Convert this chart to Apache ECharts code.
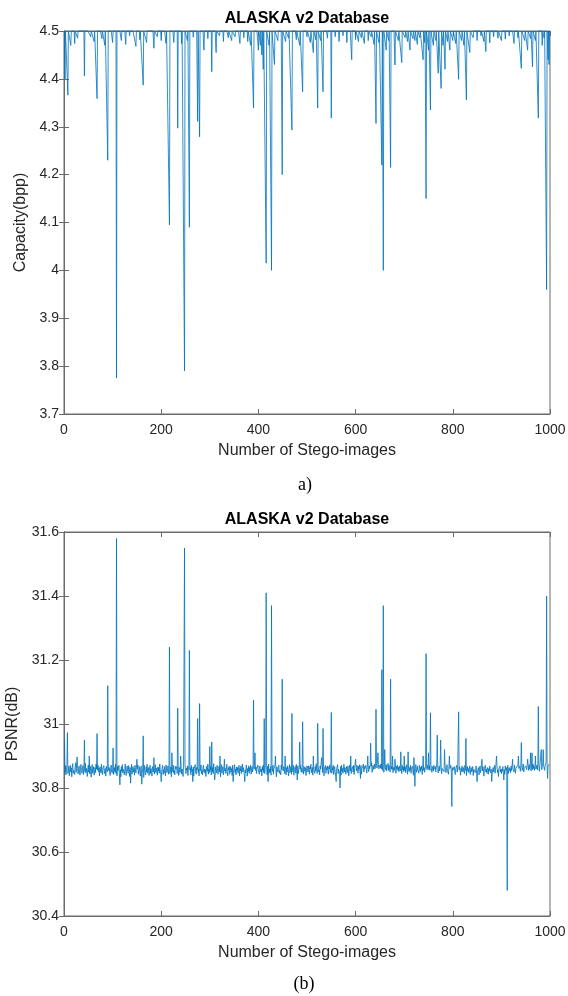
<!DOCTYPE html>
<html><head><meta charset="utf-8">
<script src="https://cdn.jsdelivr.net/npm/echarts@6/dist/echarts.min.js"></script>
<style>html,body{margin:0;padding:0;background:#fff}#c{width:568px;height:996px}</style>
</head><body><div id="c"></div>
<script>
// ---------- data ----------
const chartTitle = 'ALASKA v2 Database';
const xName = 'Number of Stego-images';
const xTicks = [0, 200, 400, 600, 800, 1000];
const capTicks = [3.7, 3.8, 3.9, 4, 4.1, 4.2, 4.3, 4.4, 4.5];
const psnrTicks = [30.4, 30.6, 30.8, 31, 31.2, 31.4, 31.6];
const nImages = 1000;

// Capacity (bpp): most images reach 4.5; dips listed as [image index, value]
const capBaseline = 4.5;
const capDips = [
 [2,4.40],[8,4.366],[14,4.47],[22,4.474],[28,4.485],[42,4.406],[55,4.488],[62,4.478],[68,4.359],[78,4.484],
 [84,4.47],[90,4.23],[100,4.476],[108,3.775],[118,4.48],[127,4.472],[135,4.49],[148,4.468],[156,4.482],[163,4.387],
 [170,4.476],[185,4.464],[192,4.488],[200,4.48],[210,4.474],[217,4.095],[226,4.476],[234,4.297],[242,4.474],[248,3.79],
 [254,4.48],[258,4.09],[266,4.487],[275,4.311],[279,4.279],[288,4.46],[296,4.484],[304,4.415],[313,4.455],[320,4.49],
 [328,4.478],[338,4.486],[345,4.48],[352,4.488],[362,4.474],[370,4.486],[378,4.478],[384,4.47],[390,4.339],[400,4.46],
 [404,4.47],[407,4.45],[410,4.42],[416,4.015],[422,4.47],[427,4.0],[433,4.43],[440,4.48],[449,4.2],[456,4.478],
 [462,4.485],[469,4.293],[478,4.482],[485,4.47],[491,4.373],[500,4.488],[507,4.476],[513,4.455],[518,4.482],[522,4.339],
 [528,4.48],[533,4.373],[542,4.485],[550,4.318],[558,4.488],[566,4.478],[574,4.49],[582,4.476],[592,4.44],[600,4.482],
 [606,4.478],[612,4.486],[618,4.474],[626,4.48],[632,4.488],[638,4.472],[642,4.307],[648,4.476],[654,4.22],[657,4.0],
 [663,4.46],[668,4.48],[672,4.215],[681,4.429],[688,4.48],[695,4.434],[702,4.486],[707,4.478],[712,4.46],[718,4.484],
 [722,4.48],[727,4.472],[732,4.486],[739,4.44],[742,4.476],[745,4.15],[750,4.46],[754,4.335],[760,4.47],[765,4.48],
 [770,4.412],[776,4.38],[780,4.47],[784,4.42],[789,4.478],[794,4.46],[800,4.48],[806,4.474],[812,4.399],[818,4.48],
 [823,4.47],[828,4.356],[835,4.455],[842,4.486],[850,4.48],[858,4.49],[864,4.478],[868,4.457],[876,4.475],[884,4.488],
 [893,4.485],[900,4.48],[908,4.483],[916,4.49],[926,4.474],[934,4.486],[941,4.422],[948,4.48],[954,4.46],[960,4.484],
 [964,4.425],[970,4.48],[976,4.318],[984,4.47],[988,4.485],[993,3.96],[996,4.44],[998,4.43]
];

// PSNR (dB): background noise, stored as thousandths of a dB above 30.8 dB, one per image
const psnrNoiseOrigin = 30.8;
const psnrNoiseMilli = [
 62,48,70,41,55,73,60,45,52,68, 38,57,71,50,63,35,64,76,46,55, 60,42,67,79,49,53,82,61,44,57, 69,50,40,63,74,54,46,59,70,42, 57,66,51,77,47,61,52,36,64,72,
 49,60,44,68,55,34,62,73,46,57, 67,40,53,64,48,75,59,43,56,71, 51,62,38,66,58,47,74,55,42,63, 57,70,45,52,61,37,68,59,50,43, 76,54,64,48,39,61,72,53,46,59,
 68,42,55,64,50,74,45,60,38,67, 54,48,71,44,62,57,35,66,52,73, 47,59,63,41,55,75,50,39,61,69, 53,46,70,57,36,64,58,48,74,43, 55,67,50,61,40,71,57,47,63,53,
 60,72,43,55,67,48,37,62,69,52, 45,64,57,33,71,55,59,41,66,50, 74,46,57,64,39,55,71,45,61,52, 37,67,59,50,69,43,57,73,48,62, 55,40,66,53,64,46,75,57,43,59,
 50,64,71,42,57,46,67,55,38,72, 59,48,61,69,43,53,77,45,59,66, 35,57,64,50,71,46,55,41,68,59, 53,67,45,61,73,39,55,64,48,57, 69,43,59,52,36,66,61,48,74,55,
 45,62,55,69,39,59,72,48,57,64, 41,71,52,59,46,66,37,61,55,73, 50,43,64,57,68,48,59,38,66,53, 61,72,45,55,41,64,71,50,59,46, 57,36,67,61,52,75,43,59,48,66,
 55,68,41,59,50,64,45,76,52,61, 40,66,57,48,71,55,43,61,68,50, 59,35,64,73,46,57,67,41,55,71, 53,61,45,59,74,48,38,64,57,68, 43,55,67,50,61,39,71,59,46,64,
 73,48,59,41,66,55,64,46,57,71, 38,61,53,69,45,59,75,50,64,55, 41,67,57,48,72,59,37,61,52,69, 46,64,55,71,43,57,67,50,61,39, 59,74,48,55,66,45,61,57,71,53,
 57,43,69,61,50,59,38,66,55,72, 48,61,45,64,71,53,59,41,68,55, 75,46,59,50,67,40,57,64,52,71, 43,61,55,69,48,59,35,66,57,50, 64,71,46,55,61,41,72,57,48,67,
 53,67,59,45,71,55,41,64,50,69, 57,38,61,73,48,59,67,43,55,64, 50,71,40,59,57,67,46,74,53,61, 69,45,57,64,37,59,71,50,61,48, 55,73,43,67,59,52,64,39,57,69,
 61,50,69,55,43,67,59,74,48,57, 64,40,71,55,61,46,67,52,76,59, 45,61,71,50,57,41,69,59,55,64, 73,48,59,67,38,61,55,71,46,64, 57,69,53,43,67,59,72,48,61,55,
 46,64,57,71,42,59,67,50,37,69, 61,55,73,45,59,64,48,57,67,40, 71,52,61,46,59,74,50,64,55,43, 67,57,48,69,61,38,59,72,53,64, 45,59,55,67,50,71,42,61,57,69,
 64,53,71,60,46,68,58,73,51,62, 70,43,60,65,56,75,50,68,60,54, 71,58,47,65,77,62,51,69,60,73, 55,68,79,49,62,71,58,65,75,60, 69,52,77,62,68,55,73,60,71,65,
 62,75,60,70,55,78,65,49,71,62, 68,57,73,53,65,60,77,55,70,62, 50,71,60,68,57,75,48,65,70,55, 62,73,46,68,60,71,55,65,51,69, 60,53,68,62,45,71,57,65,51,60,
 55,67,48,61,73,57,43,69,60,51, 64,55,71,46,61,57,68,53,40,69, 60,28,64,73,49,57,68,55,61,46, 71,60,51,65,57,69,42,61,75,55, 64,49,59,69,53,67,57,71,61,60,
 57,69,55,64,73,60,49,67,61,53, 71,59,55,67,50,64,75,57,61,47, 59,69,53,64,57,71,45,61,55,67, 59,51,64,69,57,48,61,73,55,59, 43,67,53,61,57,71,50,59,64,55,
 49,59,67,53,42,61,57,71,50,59, 64,47,57,67,55,40,61,52,69,57, 50,64,59,45,71,55,61,39,57,67, 52,61,48,59,69,42,57,64,50,55, 67,39,59,53,64,48,57,69,45,61,
 55,50,64,41,59,69,48,57,61,45, 53,67,59,37,61,55,71,50,59,46, 64,57,43,61,52,69,55,48,59,67, 41,57,64,50,55,71,46,59,53,61, 67,48,57,36,61,55,69,50,59,45,
 59,52,67,48,61,57,43,69,55,64, 50,59,71,45,57,64,53,61,48,69, 55,67,41,59,64,50,71,57,46,61, 67,55,59,73,48,61,57,69,52,64, 59,71,55,64,75,50,61,67,57,69,
 64,57,71,61,69,55,73,59,67,61, 53,71,64,57,75,61,69,55,67,73, 59,64,71,57,77,61,69,52,67,73, 61,71,57,67,75,59,69,64,55,71, 67,79,61,73,59,69,64,75,67,71
];
// PSNR spikes and dips: [image index, dB]
const psnrPeaks = [
 [1,30.955],[7,30.973],[27,30.897],[42,30.95],[52,30.9],[68,30.97],[90,31.12],[101,30.925],[108,31.58],[115,30.81],
 [137,30.815],[150,30.89],[160,30.812],[163,30.963],[185,30.895],[200,30.82],[217,31.24],[222,30.91],[234,31.05],[240,30.9],
 [248,31.55],[258,31.23],[265,30.82],[275,31.017],[279,31.064],[300,30.93],[304,30.944],[310,30.825],[321,30.9],[330,30.89],
 [348,30.82],[372,30.82],[390,31.075],[393,30.91],[412,31.017],[416,31.41],[420,30.82],[427,31.37],[435,30.9],[449,31.14],
 [455,30.9],[469,31.033],[480,30.825],[485,30.944],[491,31.007],[513,30.9],[522,31.002],[530,30.895],[533,30.986],[550,31.036],
 [560,30.82],[568,30.80],[590,30.9],[600,30.89],[610,30.83],[625,30.9],[631,30.94],[642,31.046],[646,30.91],[654,31.17],
 [657,31.37],[660,30.92],[672,31.14],[676,30.9],[681,30.89],[693,30.913],[700,30.9],[708,30.913],[720,30.895],[722,30.805],
 [739,30.9],[745,31.22],[750,30.91],[754,31.035],[768,30.965],[775,30.95],[783,30.92],[793,30.9],[798,30.742],[812,31.038],
 [827,30.955],[850,30.82],[860,30.89],[880,30.82],[890,30.9],[905,30.825],[912,30.48],[923,30.89],[935,30.9],[941,30.942],
 [954,30.89],[960,30.91],[963,30.91],[970,30.9],[976,31.055],[982,30.92],[986,30.92],[993,31.4],[995,30.83]
];

// ---------- build series data ----------
const capData = [];
for (let i = 1; i <= nImages; i++) capData.push([i, capBaseline]);
capDips.forEach(([i, v]) => { capData[i - 1] = [i, v]; });

const psnrData = psnrNoiseMilli.map((m, k) => [k + 1, +(psnrNoiseOrigin + m / 1000).toFixed(3)]);
psnrPeaks.forEach(([i, v]) => { psnrData[i - 1] = [i, v]; });

// ---------- style ----------
const FONT = '"Liberation Sans", Arial, Helvetica, sans-serif';
const SERIF = '"Liberation Serif", "Times New Roman", serif';
const AX = '#6a6a6a';
const TXT = '#262626';
const LINE = '#0072BD';

function xAx(grid, pos, main) {
  return {
    gridIndex: grid, type: 'value', position: pos,
    min: xTicks[0], max: xTicks[xTicks.length - 1], interval: xTicks[1] - xTicks[0],
    name: main ? xName : '', nameLocation: 'middle', nameGap: 29,
    nameTextStyle: { fontSize: 16, color: TXT, fontFamily: FONT },
    axisLine: { show: true, lineStyle: { color: AX, width: 1 } },
    axisTick: { show: true, inside: true, length: 5, lineStyle: { color: AX } },
    axisLabel: { show: main, margin: 9, fontSize: 14, color: TXT, fontFamily: FONT,
      formatter: v => String(v) },
    splitLine: { show: false }
  };
}
function yAx(grid, pos, main, ticks, name, gap) {
  return {
    gridIndex: grid, type: 'value', position: pos,
    min: ticks[0], max: ticks[ticks.length - 1],
    interval: +(ticks[1] - ticks[0]).toFixed(3),
    name: main ? name : '', nameLocation: 'middle', nameGap: gap,
    nameTextStyle: { fontSize: 16, color: TXT, fontFamily: FONT },
    axisLine: { show: true, lineStyle: { color: AX, width: 1 } },
    axisTick: { show: true, inside: true, length: 5, lineStyle: { color: AX } },
    axisLabel: { show: main, margin: 5, fontSize: 14, color: TXT, fontFamily: FONT,
      formatter: v => String(Math.round(v * 10) / 10) },
    splitLine: { show: false }
  };
}

const chart = echarts.init(document.getElementById('c'), null, { renderer: 'canvas' });
chart.setOption({
  animation: false,
  backgroundColor: '#fff',
  grid: [
    { left: 64, top: 31, width: 486, height: 383, show: true, borderColor: AX, borderWidth: 1, backgroundColor: '#fff',
      containLabel: false, outerBoundsMode: 'none' },
    { left: 64, top: 532, width: 486, height: 384, show: true, borderColor: AX, borderWidth: 1, backgroundColor: '#fff',
      containLabel: false, outerBoundsMode: 'none' }
  ],
  xAxis: [xAx(0, 'bottom', true), xAx(0, 'top', false), xAx(1, 'bottom', true), xAx(1, 'top', false)],
  yAxis: [
    yAx(0, 'left', true, capTicks, 'Capacity(bpp)', 32), yAx(0, 'right', false, capTicks, '', 0),
    yAx(1, 'left', true, psnrTicks, 'PSNR(dB)', 39), yAx(1, 'right', false, psnrTicks, '', 0)
  ],
  series: [
    { type: 'line', xAxisIndex: 0, yAxisIndex: 0, data: capData, showSymbol: false, symbol: 'none',
      clip: false, lineStyle: { color: LINE, width: 0.8 }, z: 5 },
    { type: 'line', xAxisIndex: 2, yAxisIndex: 2, data: psnrData, showSymbol: false, symbol: 'none',
      clip: false, lineStyle: { color: LINE, width: 0.8 }, z: 5 }
  ],
  graphic: [
    { type: 'text', x: 307, y: 18.5, style: { text: chartTitle, align: 'center', verticalAlign: 'middle',
      font: 'bold 16px ' + FONT, fill: '#000' } },
    { type: 'text', x: 307, y: 519.5, style: { text: chartTitle, align: 'center', verticalAlign: 'middle',
      font: 'bold 16px ' + FONT, fill: '#000' } },
    { type: 'text', x: 305, y: 485, style: { text: 'a)', align: 'center', verticalAlign: 'middle',
      font: '18px ' + SERIF, fill: '#000' } },
    { type: 'text', x: 304, y: 984, style: { text: '(b)', align: 'center', verticalAlign: 'middle',
      font: '18px ' + SERIF, fill: '#000' } }
  ]
});
</script>
</body></html>
